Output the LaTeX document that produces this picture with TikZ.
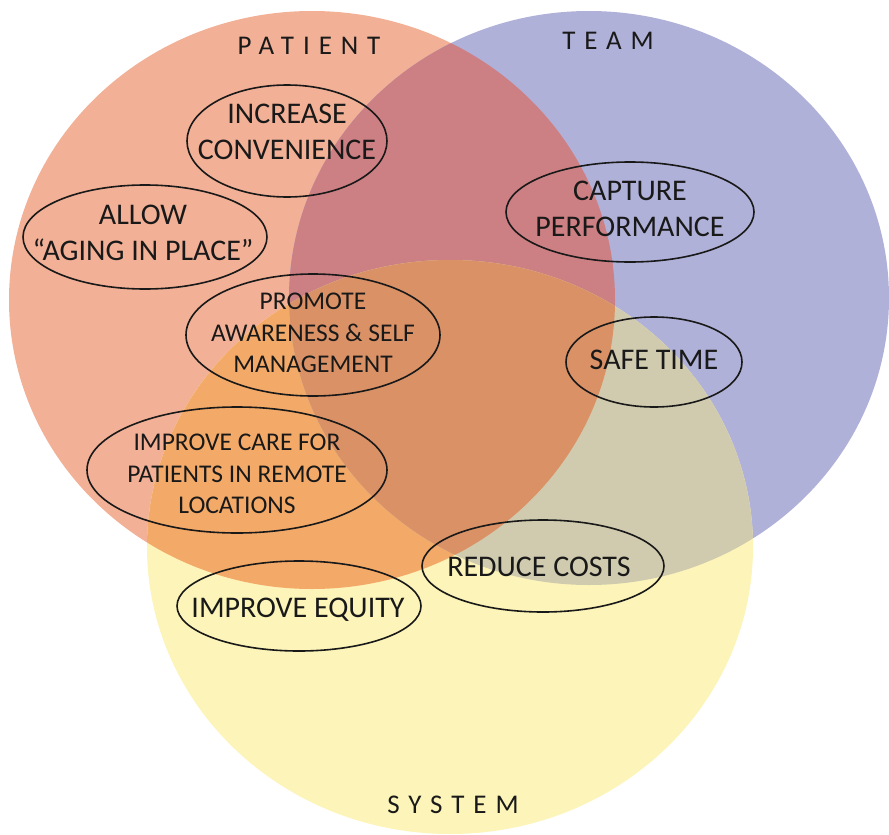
\documentclass[tikz,border=0pt]{standalone}
\usepackage{fontspec}
\setmainfont{Carlito}
\definecolor{pcol}{RGB}{242,176,150}
\definecolor{tcol}{RGB}{176,177,216}
\definecolor{scol}{RGB}{253,244,185}
\definecolor{ptcol}{RGB}{205,128,131}
\definecolor{pscol}{RGB}{243,170,105}
\definecolor{tscol}{RGB}{208,203,175}
\definecolor{ptscol}{RGB}{218,145,102}
\definecolor{ink}{RGB}{25,25,25}
\newcommand{\Pcirc}{(312,300) ellipse [x radius=303pt, y radius=289pt]}
\newcommand{\Tcirc}{(589,298) ellipse [x radius=300pt, y radius=287pt]}
\newcommand{\Scirc}{(450,547) ellipse [x radius=303pt, y radius=287pt]}
\tikzset{
  big/.style={text=ink, align=center, inner sep=0pt, font=\fontsize{30}{36}\selectfont},
  mid/.style={text=ink, align=center, inner sep=0pt, font=\fontsize{25.5}{31.5}\selectfont},
  title/.style={text=ink, inner sep=0pt, font=\fontsize{27}{32}\selectfont\addfontfeature{LetterSpace=33}},
  oval/.style={draw=ink, line width=1.6pt}
}
\begin{document}
\begin{tikzpicture}[x=1pt,y=-1pt]
\useasboundingbox (0,0) rectangle (889,835);
% base circles
\fill[pcol] \Pcirc;
\fill[tcol] \Tcirc;
\fill[scol] \Scirc;
% overlaps
\begin{scope}\clip \Pcirc; \fill[ptcol] \Tcirc; \end{scope}
\begin{scope}\clip \Pcirc; \fill[pscol] \Scirc; \end{scope}
\begin{scope}\clip \Tcirc; \fill[tscol] \Scirc; \end{scope}
\begin{scope}\clip \Pcirc; \clip \Tcirc; \fill[ptscol] \Scirc; \end{scope}
% titles
\node[title] (patient) at (309,46) {PATIENT};
\node[title] (team) at (608,41) {TEAM};
\node[title] (system) at (453,805) {SYSTEM};
% goals
\node[big] (inc) at (287,132) {INCREASE\\CONVENIENCE};
\draw[oval] (287,141) ellipse [x radius=100pt, y radius=56pt];
\node[big] (allow) at (143,233) {ALLOW\\“AGING IN PLACE”};
\draw[oval] (145,237) ellipse [x radius=122pt, y radius=52pt];
\node[mid] (prom) at (313,333) {PROMOTE\\AWARENESS \& SELF\\MANAGEMENT};
\draw[oval] (313,335) ellipse [x radius=127pt, y radius=61pt];
\node[mid] (care) at (237,474) {IMPROVE CARE FOR\\PATIENTS IN REMOTE\\LOCATIONS};
\draw[oval] (237,470) ellipse [x radius=150pt, y radius=63pt];
\node[big] (capt) at (630,209) {CAPTURE\\PERFORMANCE};
\draw[oval] (630,212) ellipse [x radius=124pt, y radius=50pt];
\node[big] (safe) at (654,360) {SAFE TIME};
\draw[oval] (654,362) ellipse [x radius=88pt, y radius=45pt];
\node[big] (red) at (539,567) {REDUCE COSTS};
\draw[oval] (543,566) ellipse [x radius=121pt, y radius=46pt];
\node[big] (eq) at (298,610) {IMPROVE EQUITY};
\draw[oval] (299,606) ellipse [x radius=122pt, y radius=45pt];
\end{tikzpicture}
\end{document}
